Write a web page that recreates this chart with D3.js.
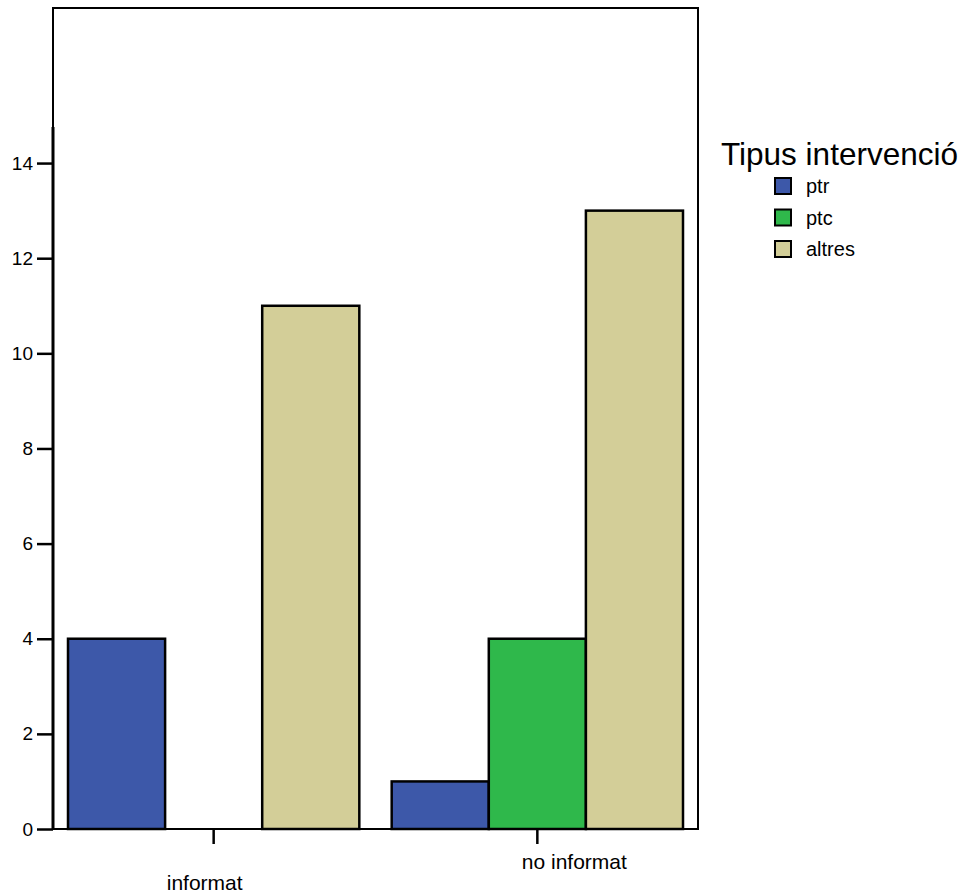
<!DOCTYPE html>
<html>
<head>
<meta charset="utf-8">
<script src="https://cdn.jsdelivr.net/npm/d3@7"></script>
<style>
  html, body { margin: 0; padding: 0; background: #fff; }
  svg { display: block; font-family: "Liberation Sans", Arial, sans-serif; }
</style>
</head>
<body>
<svg id="chart" width="964" height="895"></svg>
<script>
// Grouped bar chart: counts per category, split by type of intervention
const categories = ["informat", "no informat"];
const seriesNames = ["ptr", "ptc", "altres"];
const ptrValues = [4, 1];
const ptcValues = [0, 4];
const altresValues = [11, 13];
const yTickValues = [0, 2, 4, 6, 8, 10, 12, 14];
const seriesColors = ["#3d58a9", "#2fb84b", "#d3ce98"];
const legendTitle = "Tipus intervenció";

const seriesValues = [ptrValues, ptcValues, altresValues];

const svg = d3.select("#chart");

const frame = { left: 53, right: 698, top: 8, bottom: 829 };
// horizontal nudges and baselines for the staggered category labels
const labelShift = [-9, 37];
const labelBaseline = [890, 869];

const y = d3.scaleLinear().domain([0, 17.26]).range([frame.bottom, frame.top]);

const x0 = d3.scaleBand()
  .domain(categories)
  .range([68, 683])
  .paddingInner(0.1);

const x1 = d3.scaleBand()
  .domain(seriesNames)
  .range([0, x0.bandwidth()]);

const color = d3.scaleOrdinal().domain(seriesNames).range(seriesColors);

// Plot frame
svg.append("rect")
  .attr("x", frame.left)
  .attr("y", frame.top)
  .attr("width", frame.right - frame.left)
  .attr("height", frame.bottom - frame.top)
  .attr("fill", "none")
  .attr("stroke", "#000")
  .attr("stroke-width", 2);

// Bars
const rows = categories.map((c, i) => ({
  category: c,
  values: seriesNames.map((s, j) => ({ series: s, value: seriesValues[j][i] }))
}));

svg.append("g")
  .selectAll("g")
  .data(rows)
  .join("g")
  .attr("transform", d => `translate(${x0(d.category)},0)`)
  .selectAll("rect")
  .data(d => d.values)
  .join("rect")
  .attr("x", d => x1(d.series))
  .attr("y", d => y(d.value))
  .attr("width", x1.bandwidth())
  .attr("height", d => y(0) - y(d.value))
  .attr("fill", d => color(d.series))
  .attr("stroke", "#000")
  .attr("stroke-width", 2.5);

// Y axis
const yAxis = svg.append("g")
  .attr("transform", `translate(${frame.left},0)`)
  .call(d3.axisLeft(y).tickValues(yTickValues).tickSize(16).tickPadding(4).tickFormat(d3.format("d")));
yAxis.select(".domain").remove();
yAxis.append("line")
  .attr("x1", 0).attr("x2", 0)
  .attr("y1", y(14.76)).attr("y2", y(0))
  .attr("stroke", "#000").attr("stroke-width", 3);
yAxis.selectAll(".tick line").attr("stroke", "#000").attr("stroke-width", 2.5);
yAxis.selectAll(".tick text")
  .attr("fill", "#000")
  .style("font-size", "19px")
  .style("font-family", "'Liberation Sans', Arial, sans-serif");

// X axis: ticks at group centres, labels staggered
const xAxis = svg.append("g")
  .attr("transform", `translate(0,${frame.bottom})`)
  .call(d3.axisBottom(x0).tickSize(15).tickFormat(""));
xAxis.select(".domain").remove();
xAxis.selectAll(".tick line").attr("stroke", "#000").attr("stroke-width", 2.5);

svg.append("g")
  .selectAll("text")
  .data(categories)
  .join("text")
  .attr("x", (d, i) => x0(d) + x0.bandwidth() / 2 + labelShift[i])
  .attr("y", (d, i) => labelBaseline[i])
  .attr("text-anchor", "middle")
  .style("font-size", "21px")
  .text(d => d);

// Legend
const legend = svg.append("g");
legend.append("text")
  .attr("x", 721)
  .attr("y", 165)
  .style("font-size", "31.5px")
  .text(legendTitle);

const items = legend.selectAll("g.item")
  .data(seriesNames)
  .join("g")
  .attr("class", "item")
  .attr("transform", (d, i) => `translate(775,${178 + i * 31.5})`);
items.append("rect")
  .attr("width", 16).attr("height", 16)
  .attr("fill", d => color(d))
  .attr("stroke", "#000").attr("stroke-width", 2);
items.append("text")
  .attr("x", 31).attr("y", 15)
  .style("font-size", "20px")
  .text(d => d);
</script>
</body>
</html>
